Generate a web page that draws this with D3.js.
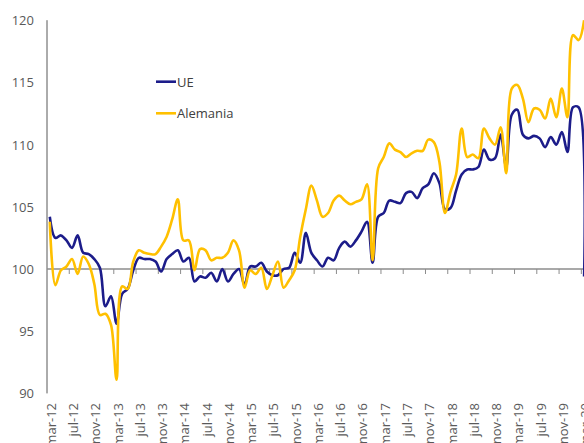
<!DOCTYPE html>
<html>
<head>
<meta charset="utf-8">
<script src="https://cdn.jsdelivr.net/npm/d3@7"></script>
<style>
  body { margin: 0; background: #fff; }
  svg { display: block; font-family: "Open Sans", sans-serif; }
</style>
</head>
<body>
<div id="chart"></div>
<script>
// month abbreviations (Spanish) and years covered, mar-12 .. mar-20
const monthNames = ["ene", "feb", "mar", "abr", "may", "jun", "jul", "ago", "sep", "oct", "nov", "dic"];
const years = ["12", "13", "14", "15", "16", "17", "18", "19", "20"];

const ueValues = [
    104.2, 102.5, 102.7, 102.3, 101.7, 102.7, 101.3, 101.2, 100.8, 100.1,
    97.0, 97.8, 95.6, 98.0, 98.4, 99.9, 100.9, 100.8, 100.8, 100.6,
    99.8, 100.8, 101.2, 101.5, 100.6, 100.9, 99.0, 99.4, 99.3, 99.7,
    99.0, 100.0, 99.0, 99.6, 100.0, 98.7, 100.2, 100.2, 100.5, 99.8,
    99.5, 99.5, 100.0, 100.1, 101.3, 100.5, 102.9, 101.3, 100.7, 100.2,
    100.9, 100.7, 101.7, 102.2, 101.8, 102.3, 103.0, 103.8, 100.5, 104.2,
    104.5, 105.5, 105.4, 105.3, 106.1, 106.2, 105.7, 106.5, 106.8, 107.7,
    106.9, 104.8, 104.9, 106.3, 107.6, 108.0, 108.0, 108.2, 109.6, 108.8,
    108.9, 110.8, 108.2, 112.4, 112.8, 110.8, 110.5, 110.7, 110.5, 109.8,
    110.6, 110.0, 111.0, 109.4, 113.0, 113.0, 99.4
];

const alemaniaValues = [
    103.8, 98.7, 99.9, 100.2, 100.8, 99.6, 101.0, 100.4, 98.8, 96.3,
    96.4, 95.5, 91.1, 98.6, 98.4, 100.6, 101.5, 101.3, 101.2, 101.2,
    101.8, 102.6, 104.0, 105.6, 102.3, 102.3, 99.9, 101.6, 101.5, 100.7,
    100.9, 100.9, 101.3, 102.3, 101.5, 98.5, 99.9, 99.6, 100.1, 98.4,
    99.5, 100.6, 98.5, 99.1, 99.9, 102.6, 104.8, 106.7, 105.5, 104.2,
    104.5, 105.5, 105.9, 105.5, 105.2, 105.4, 105.6, 106.8, 100.7, 108.1,
    109.0, 110.1, 109.6, 109.4, 109.0, 109.3, 109.5, 109.5, 110.4, 110.2,
    108.6, 104.5, 106.2, 107.6, 111.3, 109.0, 109.2, 108.9, 111.3, 110.5,
    110.0, 111.4, 107.7, 114.5, 114.8, 113.7, 111.8, 112.9, 112.8, 112.1,
    113.7, 112.2, 114.5, 112.2, 118.8, 118.4, 120.0
];

const yTicks = [90, 95, 100, 105, 110, 115, 120];

// categories mar-12 ... mar-20
const categories = [];
years.forEach((y, yi) => {
    monthNames.forEach((m, mi) => {
        if (yi === 0 && mi < 2) return;
        if (yi === years.length - 1 && mi > 2) return;
        categories.push(`${m}-${y}`);
    });
});

const series = [
    { name: "UE", values: ueValues, color: "#1c1c8a" },
    { name: "Alemania", values: alemaniaValues, color: "#ffc000" },
];

const width = 584;
const height = 443;
const axisX = 47;
const plotRight = axisX + categories.length * 5.566;

const svg = d3.select("#chart")
    .append("svg")
    .attr("width", width)
    .attr("height", height);

const x = d3.scaleBand()
    .domain(categories)
    .range([axisX, plotRight]);

const y = d3.scaleLinear()
    .domain([90, 120])
    .range([393.4, 20.2]);

// y axis labels
svg.append("g")
    .selectAll("text")
    .data(yTicks)
    .enter()
    .append("text")
    .attr("x", 34)
    .attr("y", (d) => y(d))
    .attr("text-anchor", "end")
    .attr("dominant-baseline", "central")
    .attr("font-size", 13)
    .attr("fill", "#595959")
    .text((d) => d);

// vertical axis line
svg.append("line")
    .attr("x1", axisX)
    .attr("x2", axisX)
    .attr("y1", y(120))
    .attr("y2", y(90))
    .attr("stroke", "#595959")
    .attr("stroke-width", 1);

// horizontal axis at 100 with ticks every 4 months
svg.append("line")
    .attr("x1", axisX)
    .attr("x2", width)
    .attr("y1", y(100))
    .attr("y2", y(100))
    .attr("stroke", "#8c8c8c")
    .attr("stroke-width", 1.3);

const tickCats = categories.filter((d, i) => i > 0 && i % 4 === 0);
svg.append("g")
    .selectAll("line")
    .data(tickCats)
    .enter()
    .append("line")
    .attr("x1", (d) => x(d))
    .attr("x2", (d) => x(d))
    .attr("y1", y(100))
    .attr("y2", y(100) + 5)
    .attr("stroke", "#8c8c8c")
    .attr("stroke-width", 1);

// x labels, rotated, every 4th category
const labelCats = categories.filter((d, i) => i % 4 === 0);
svg.append("g")
    .selectAll("text")
    .data(labelCats)
    .enter()
    .append("text")
    .attr("transform", (d) => `translate(${x(d) + x.bandwidth() / 2 + 6},403) rotate(-90)`)
    .attr("text-anchor", "end")
    .attr("font-size", 13)
    .attr("fill", "#595959")
    .text((d) => d);

// lines
const line = d3.line()
    .x((d, i) => x(categories[i]) + x.bandwidth() / 2)
    .y((d) => y(d))
    .curve(d3.curveCatmullRom.alpha(0.5));

svg.append("g")
    .selectAll("path")
    .data(series)
    .enter()
    .append("path")
    .attr("d", (d) => line(d.values))
    .attr("fill", "none")
    .attr("stroke", (d) => d.color)
    .attr("stroke-width", 2.6)
    .attr("stroke-linejoin", "round");

// legend
const legend = svg.append("g")
    .selectAll("g")
    .data(series)
    .enter()
    .append("g")
    .attr("transform", (d, i) => `translate(156,${81.7 + i * 31.6})`);

legend.append("line")
    .attr("x1", 0)
    .attr("x2", 20)
    .attr("stroke", (d) => d.color)
    .attr("stroke-width", 2.6);

legend.append("text")
    .attr("x", 21)
    .attr("dominant-baseline", "central")
    .attr("font-size", 13)
    .attr("fill", "#404040")
    .text((d) => d.name);
</script>
</body>
</html>
